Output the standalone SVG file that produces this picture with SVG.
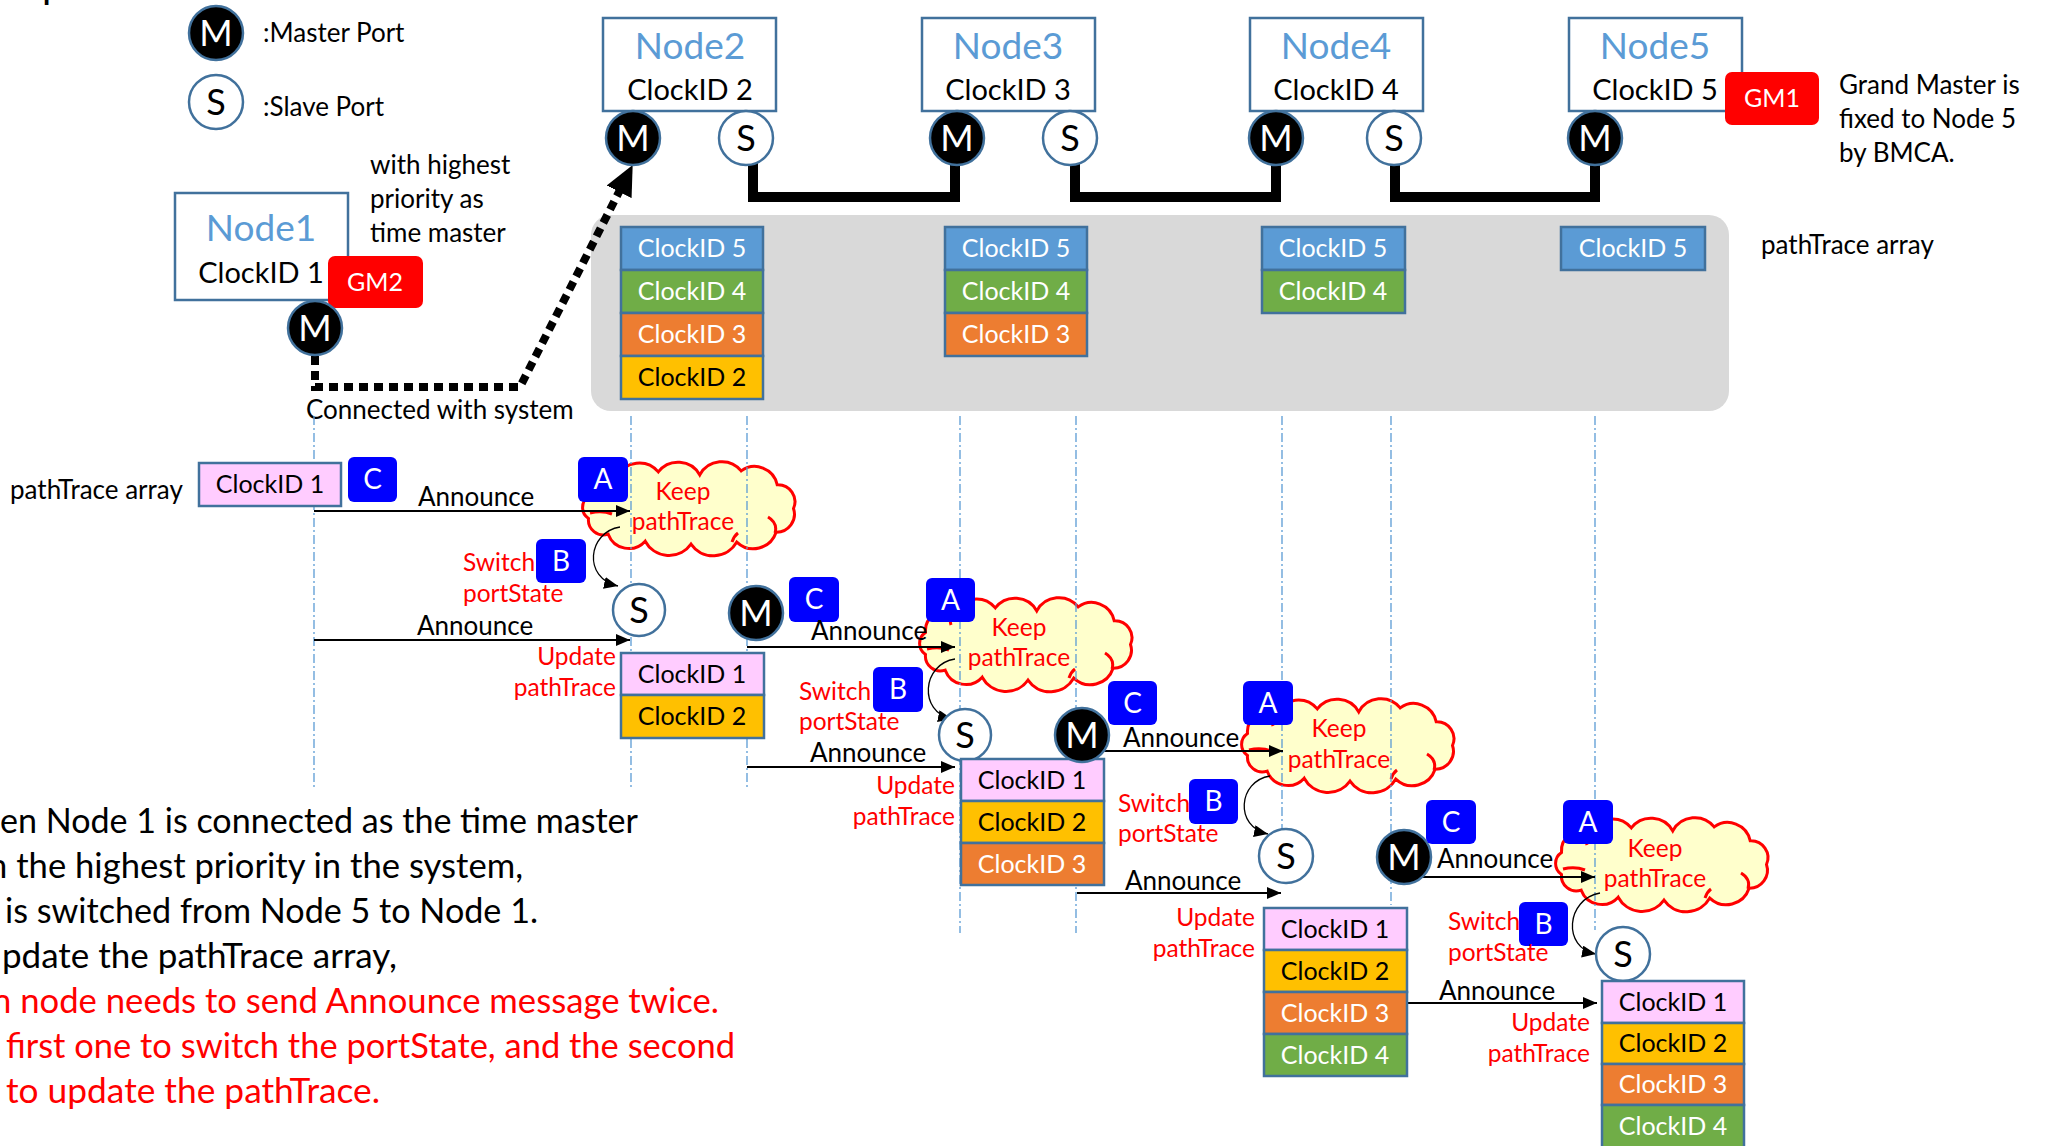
<svg xmlns="http://www.w3.org/2000/svg" xmlns:xlink="http://www.w3.org/1999/xlink" width="2045" height="1146" viewBox="0 0 2045 1146">
<style>
text{font-family:Lato,'Liberation Sans',sans-serif;}
.box{fill:#fff;stroke:#41719C;stroke-width:2.5}
.mc{fill:#000;stroke:#41719C;stroke-width:2.5}
.sc{fill:#fff;stroke:#41719C;stroke-width:2.5}
.ml{fill:#fff;font-size:36px;text-anchor:middle}
.sl{fill:#000;font-size:36px;text-anchor:middle}
.nt{fill:#5B9BD5;font-size:37px;text-anchor:middle}
.nc{fill:#000;font-size:29px;text-anchor:middle}
.cell{stroke:#41719C;stroke-width:2.5}
.pk{fill:#FFCCFF}.yl{fill:#FFC000}.or{fill:#ED7D31}.gr{fill:#70AD47}.bl{fill:#5B9BD5}
.ct{font-size:25px;text-anchor:middle;fill:#fff}
.ck{font-size:25px;text-anchor:middle;fill:#000}
.sq{fill:#0000FF}
.sqt{fill:#fff;font-size:28px;text-anchor:middle}
.gm{fill:#FF0000}
.gmt{fill:#fff;font-size:25px;text-anchor:middle}
.lbl{font-size:26px;fill:#000}
.red{font-size:24.5px;fill:#FF0000}
.rend{text-anchor:end}
.mid{text-anchor:middle}
.life{stroke:#5B9BD5;stroke-width:1.3;stroke-dasharray:9 3 2 3;fill:none}
.arr{stroke:#000;stroke-width:1.8;fill:none;marker-end:url(#ah)}
.carr{stroke:#000;stroke-width:1.3;fill:none;marker-end:url(#ah)}
.thick{stroke:#000;stroke-width:10;fill:none}
.dots{stroke:#000;stroke-width:8;fill:none;stroke-dasharray:9 6;marker-end:url(#bah)}
.cloud{fill:#FFFFCC;stroke:#FF0000;stroke-width:3}
.cin{fill:none;stroke:#FF0000;stroke-width:3}
.bt{font-size:34px;fill:#000}
.br{font-size:34px;fill:#FF0000}
</style>
<defs>
<marker id="ah" markerUnits="userSpaceOnUse" markerWidth="14" markerHeight="12" refX="14" refY="6" orient="auto"><path d="M0,0 L14,6 L0,12 Z" fill="#000"/></marker>
<marker id="bah" markerUnits="userSpaceOnUse" markerWidth="30" markerHeight="28" refX="2" refY="14" orient="auto"><path d="M0,0 L30,14 L0,28 Z" fill="#000"/></marker>
<g id="cloudp">
<path d="M6.5 57.4 A13 13 0 0 1 6.5 35.6 A20 20 0 0 1 34.9 15.8 A25 25 0 0 1 76.3 10.9 A25 25 0 0 1 117.8 13.9 A25 25 0 0 1 159.2 9.9 A23 23 0 0 1 195.2 23.7 A17 17 0 0 1 211.5 47.5 A18 18 0 0 1 194.1 71.2 A24 24 0 0 1 154.8 81.1 A27 27 0 0 1 109 83.1 A27 27 0 0 1 63.2 80.2 A22 22 0 0 1 26.2 73.2 A15 15 0 0 1 6.5 57.4 Z" class="cloud"/>
<path d="M8 52 Q20 49 30 53 M186 56 Q196 62 193 72 M34 16 Q30 22 32 28 M150 81 Q152 75 156 72" class="cin"/>
</g>
</defs>

<rect width="2045" height="1146" fill="#fff"/>
<text x="42" y="-2" style="font-size:40px" fill="#000">p</text>

<g id="legend">
<circle cx="216" cy="33" r="27" class="mc"/><text x="216" y="46" class="ml">M</text>
<text x="263" y="42" class="lbl">:Master Port</text>
<circle cx="216" cy="102" r="27" class="sc"/><text x="216" y="115" class="sl">S</text>
<text x="263" y="116" class="lbl">:Slave Port</text>
</g>

<rect id="pathtrace-area" x="591" y="215" width="1138" height="196" rx="20" fill="#D9D9D9"/>
<text x="1761" y="254" class="lbl">pathTrace array</text>

<g id="connectors-top">
<path d="M753 160 V197 H955 V160" class="thick"/>
<path d="M1075 160 V197 H1276 V160" class="thick"/>
<path d="M1395 160 V197 H1595 V160" class="thick"/>
<path d="M315 356 V387 H520 L620 190" class="dots"/>
</g>

<g id="node1">
<rect x="175" y="193" width="173" height="107" class="box"/>
<text x="261" y="241" class="nt">Node1</text>
<text x="261" y="283" class="nc">ClockID 1</text>
<rect x="328" y="256" width="95" height="52" rx="7" class="gm"/>
<text x="375" y="291" class="gmt">GM2</text>
<circle cx="315" cy="328" r="27" class="mc"/><text x="315" y="341" class="ml">M</text>
</g>
<text x="370" y="174" class="lbl">with highest</text>
<text x="370" y="208" class="lbl">priority as</text>
<text x="370" y="242" class="lbl">time master</text>
<text x="306" y="419" class="lbl">Connected with system</text>

<g id="node2">
<rect x="603" y="18" width="173" height="93" class="box"/>
<text x="690" y="59" class="nt">Node2</text>
<text x="690" y="100" class="nc">ClockID 2</text>
<circle cx="633" cy="138" r="27" class="mc"/><text x="633" y="151" class="ml">M</text>
<circle cx="746" cy="138" r="27" class="sc"/><text x="746" y="151" class="sl">S</text>
</g>
<g id="node3">
<rect x="922" y="18" width="173" height="93" class="box"/>
<text x="1008" y="59" class="nt">Node3</text>
<text x="1008" y="100" class="nc">ClockID 3</text>
<circle cx="957" cy="138" r="27" class="mc"/><text x="957" y="151" class="ml">M</text>
<circle cx="1070" cy="138" r="27" class="sc"/><text x="1070" y="151" class="sl">S</text>
</g>
<g id="node4">
<rect x="1250" y="18" width="173" height="93" class="box"/>
<text x="1336" y="59" class="nt">Node4</text>
<text x="1336" y="100" class="nc">ClockID 4</text>
<circle cx="1276" cy="138" r="27" class="mc"/><text x="1276" y="151" class="ml">M</text>
<circle cx="1394" cy="138" r="27" class="sc"/><text x="1394" y="151" class="sl">S</text>
</g>
<g id="node5">
<rect x="1569" y="18" width="173" height="93" class="box"/>
<text x="1655" y="59" class="nt">Node5</text>
<text x="1655" y="100" class="nc">ClockID 5</text>
<rect x="1725" y="72" width="94" height="53" rx="7" class="gm"/>
<text x="1772" y="107" class="gmt">GM1</text>
<circle cx="1595" cy="138" r="27" class="mc"/><text x="1595" y="151" class="ml">M</text>
</g>
<text x="1839" y="94" class="lbl">Grand Master is</text>
<text x="1839" y="128" class="lbl">fixed to Node 5</text>
<text x="1839" y="162" class="lbl">by BMCA.</text>

<g id="stack-node2">
<rect x="621" y="227" width="142" height="43" class="cell bl"/><text x="692" y="257" class="ct">ClockID 5</text>
<rect x="621" y="270" width="142" height="43" class="cell gr"/><text x="692" y="300" class="ct">ClockID 4</text>
<rect x="621" y="313" width="142" height="43" class="cell or"/><text x="692" y="343" class="ct">ClockID 3</text>
<rect x="621" y="356" width="142" height="43" class="cell yl"/><text x="692" y="386" class="ck">ClockID 2</text>
</g>
<g id="stack-node3">
<rect x="945" y="227" width="142" height="43" class="cell bl"/><text x="1016" y="257" class="ct">ClockID 5</text>
<rect x="945" y="270" width="142" height="43" class="cell gr"/><text x="1016" y="300" class="ct">ClockID 4</text>
<rect x="945" y="313" width="142" height="43" class="cell or"/><text x="1016" y="343" class="ct">ClockID 3</text>
</g>
<g id="stack-node4">
<rect x="1262" y="227" width="143" height="43" class="cell bl"/><text x="1333" y="257" class="ct">ClockID 5</text>
<rect x="1262" y="270" width="143" height="43" class="cell gr"/><text x="1333" y="300" class="ct">ClockID 4</text>
</g>
<g id="stack-node5">
<rect x="1561" y="227" width="144" height="43" class="cell bl"/><text x="1633" y="257" class="ct">ClockID 5</text>
</g>

<g id="clouds">
<use href="#cloudp" xlink:href="#cloudp" x="582" y="461"/>
<use href="#cloudp" xlink:href="#cloudp" x="919" y="597"/>
<use href="#cloudp" xlink:href="#cloudp" x="1241" y="698"/>
<use href="#cloudp" xlink:href="#cloudp" x="1555" y="817"/>
</g>

<g id="lifelines">
<path d="M314 416 V790 M631 416 V790 M747 416 V790 M960 416 V933 M1076 416 V933 M1282 416 V830 M1391 416 V905 M1595 416 V930" class="life"/>
</g>

<g id="cloud-texts">
<text x="683" y="500" class="red mid">Keep</text><text x="683" y="530" class="red mid">pathTrace</text>
<text x="1019" y="636" class="red mid">Keep</text><text x="1019" y="666" class="red mid">pathTrace</text>
<text x="1339" y="737" class="red mid">Keep</text><text x="1339" y="768" class="red mid">pathTrace</text>
<text x="1655" y="857" class="red mid">Keep</text><text x="1655" y="887" class="red mid">pathTrace</text>
</g>

<g id="connectors">
<path d="M314 511 H630" class="arr"/>
<path d="M314 640 H630" class="arr"/>
<path d="M747 647 H955" class="arr"/>
<path d="M747 767 H955" class="arr"/>
<path d="M1103 751 H1283" class="arr"/>
<path d="M1077 893 H1281" class="arr"/>
<path d="M1415 877 H1595" class="arr"/>
<path d="M1408 1003 H1597" class="arr"/>
<path d="M620 527 C588 532 582 578 618 586" class="carr"/>
<path d="M955 659 C922 664 918 712 952 719" class="carr"/>
<path d="M1270 776 C1238 781 1234 827 1268 834" class="carr"/>
<path d="M1600 893 C1566 899 1562 948 1596 954" class="carr"/>
</g>

<g id="seq-node1">
<text x="10" y="499" class="lbl">pathTrace array</text>
<rect x="199" y="463" width="142" height="43" class="cell pk"/><text x="270" y="493" class="ck">ClockID 1</text>
<rect x="348" y="457" width="49" height="45" rx="6" class="sq"/><text x="372.5" y="489" class="sqt">C</text>
<text x="418" y="506" class="lbl">Announce</text>
<text x="417" y="635" class="lbl">Announce</text>
</g>

<g id="seq-node2">
<rect x="578" y="457" width="50" height="45" rx="6" class="sq"/><text x="603" y="489" class="sqt">A</text>
<rect x="536" y="539" width="50" height="44" rx="6" class="sq"/><text x="561" y="571" class="sqt">B</text>
<text x="463" y="571" class="red">Switch</text><text x="463" y="602" class="red">portState</text>
<circle cx="639" cy="610" r="26" class="sc"/><text x="639" y="623" class="sl">S</text>
<text x="616" y="665" class="red rend">Update</text><text x="616" y="696" class="red rend">pathTrace</text>
<rect x="621" y="653" width="143" height="42" class="cell pk"/><text x="692" y="683" class="ck">ClockID 1</text>
<rect x="621" y="695" width="143" height="43" class="cell yl"/><text x="692" y="725" class="ck">ClockID 2</text>
<circle cx="756" cy="613" r="27" class="mc"/><text x="756" y="626" class="ml">M</text>
<rect x="789" y="577" width="50" height="45" rx="6" class="sq"/><text x="814" y="609" class="sqt">C</text>
<text x="811" y="640" class="lbl">Announce</text>
<text x="810" y="762" class="lbl">Announce</text>
</g>

<g id="seq-node3">
<rect x="926" y="578" width="49" height="44" rx="6" class="sq"/><text x="950.5" y="610" class="sqt">A</text>
<rect x="873" y="667" width="50" height="45" rx="6" class="sq"/><text x="898" y="699" class="sqt">B</text>
<text x="799" y="700" class="red">Switch</text><text x="799" y="730" class="red">portState</text>
<circle cx="965" cy="735" r="26" class="sc"/><text x="965" y="748" class="sl">S</text>
<text x="955" y="794" class="red rend">Update</text><text x="955" y="825" class="red rend">pathTrace</text>
<rect x="961" y="759" width="143" height="42" class="cell pk"/><text x="1032" y="789" class="ck">ClockID 1</text>
<rect x="961" y="801" width="143" height="42" class="cell yl"/><text x="1032" y="831" class="ck">ClockID 2</text>
<rect x="961" y="843" width="143" height="42" class="cell or"/><text x="1032" y="873" class="ct">ClockID 3</text>
<circle cx="1082" cy="735" r="27" class="mc"/><text x="1082" y="748" class="ml">M</text>
<rect x="1108" y="681" width="49" height="44" rx="6" class="sq"/><text x="1132.5" y="713" class="sqt">C</text>
<text x="1123" y="747" class="lbl">Announce</text>
<text x="1125" y="890" class="lbl">Announce</text>
</g>

<g id="seq-node4">
<rect x="1243" y="681" width="50" height="44" rx="6" class="sq"/><text x="1268" y="713" class="sqt">A</text>
<rect x="1189" y="779" width="49" height="45" rx="6" class="sq"/><text x="1213.5" y="811" class="sqt">B</text>
<text x="1118" y="812" class="red">Switch</text><text x="1118" y="842" class="red">portState</text>
<circle cx="1286" cy="856" r="27" class="sc"/><text x="1286" y="869" class="sl">S</text>
<text x="1255" y="926" class="red rend">Update</text><text x="1255" y="957" class="red rend">pathTrace</text>
<rect x="1264" y="908" width="143" height="42" class="cell pk"/><text x="1335" y="938" class="ck">ClockID 1</text>
<rect x="1264" y="950" width="143" height="42" class="cell yl"/><text x="1335" y="980" class="ck">ClockID 2</text>
<rect x="1264" y="992" width="143" height="42" class="cell or"/><text x="1335" y="1022" class="ct">ClockID 3</text>
<rect x="1264" y="1034" width="143" height="42" class="cell gr"/><text x="1335" y="1064" class="ct">ClockID 4</text>
<circle cx="1404" cy="857" r="27" class="mc"/><text x="1404" y="870" class="ml">M</text>
<rect x="1426" y="800" width="50" height="44" rx="6" class="sq"/><text x="1451" y="832" class="sqt">C</text>
<text x="1437" y="868" class="lbl">Announce</text>
<text x="1439" y="1000" class="lbl">Announce</text>
</g>

<g id="seq-node5">
<rect x="1563" y="800" width="50" height="44" rx="6" class="sq"/><text x="1588" y="832" class="sqt">A</text>
<rect x="1519" y="902" width="49" height="44" rx="6" class="sq"/><text x="1543.5" y="934" class="sqt">B</text>
<text x="1448" y="930" class="red">Switch</text><text x="1448" y="961" class="red">portState</text>
<circle cx="1623" cy="954" r="27" class="sc"/><text x="1623" y="967" class="sl">S</text>
<text x="1590" y="1031" class="red rend">Update</text><text x="1590" y="1062" class="red rend">pathTrace</text>
<rect x="1602" y="981" width="142" height="42" class="cell pk"/><text x="1673" y="1011" class="ck">ClockID 1</text>
<rect x="1602" y="1023" width="142" height="41" class="cell yl"/><text x="1673" y="1052" class="ck">ClockID 2</text>
<rect x="1602" y="1064" width="142" height="41" class="cell or"/><text x="1673" y="1093" class="ct">ClockID 3</text>
<rect x="1602" y="1105" width="142" height="44" class="cell gr"/><text x="1673" y="1135" class="ct">ClockID 4</text>
</g>

<g id="notes">
<text x="0" y="833" class="bt" textLength="638" lengthAdjust="spacingAndGlyphs">en Node 1 is connected as the time master</text>
<text x="-12" y="878" class="bt" textLength="535" lengthAdjust="spacingAndGlyphs">n the highest priority in the system,</text>
<text x="5" y="923" class="bt" textLength="533" lengthAdjust="spacingAndGlyphs">is switched from Node 5 to Node 1.</text>
<text x="2" y="968" class="bt" textLength="395" lengthAdjust="spacingAndGlyphs">pdate the pathTrace array,</text>
<text x="-8" y="1013" class="br" textLength="727" lengthAdjust="spacingAndGlyphs">n node needs to send Announce message twice.</text>
<text x="6" y="1058" class="br" textLength="729" lengthAdjust="spacingAndGlyphs">first one to switch the portState, and the second</text>
<text x="6" y="1103" class="br" textLength="374" lengthAdjust="spacingAndGlyphs">to update the pathTrace.</text>
</g>
</svg>
